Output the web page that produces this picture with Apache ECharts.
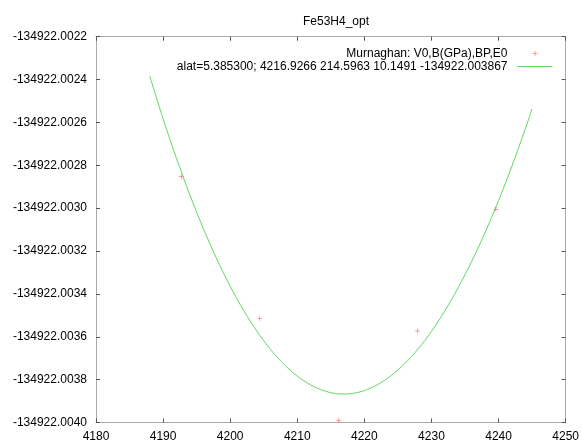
<!DOCTYPE html>
<html>
<head>
<meta charset="utf-8">
<script src="https://cdn.jsdelivr.net/npm/echarts@6/dist/echarts.min.js"></script>
<style>
  html, body { margin: 0; padding: 0; background: #ffffff; }
  #chart { width: 582px; height: 443px; }
</style>
</head>
<body>
<div id="chart"></div>
<script>
// ---- Data ----
var chartTitle = 'Fe53H4_opt';
var pointsName = 'Murnaghan: V0,B(GPa),BP,E0';
var fitName = 'alat=5.385300; 4216.9266 214.5963 10.1491 -134922.003867';

// Measured points (volume, energy)
var pointVolumes = [4192.7, 4204.4, 4216.2, 4227.9, 4239.6];
var pointEnergies = [-134922.002853, -134922.003514, -134922.003990, -134922.003573, -134922.003005];

// Fitted curve
var curveVolumes = [4188, 4190, 4192, 4194, 4196, 4198, 4200, 4202, 4204, 4206, 4208, 4210, 4212, 4213, 4214,
                    4215, 4216, 4217, 4218, 4219, 4220, 4221, 4222, 4224, 4226, 4228, 4230, 4232, 4234, 4236,
                    4238, 4240, 4242, 4244, 4245];
var curveEnergies = [-134922.002382, -134922.002583, -134922.002768, -134922.002939, -134922.003095,
                     -134922.003237, -134922.003364, -134922.003477, -134922.003575, -134922.003659,
                     -134922.003728, -134922.003784, -134922.003825, -134922.003840, -134922.003852,
                     -134922.003861, -134922.003866, -134922.003867, -134922.003865, -134922.003860,
                     -134922.003851, -134922.003838, -134922.003823, -134922.003781, -134922.003726,
                     -134922.003657, -134922.003575, -134922.003479, -134922.003370, -134922.003248,
                     -134922.003113, -134922.002965, -134922.002803, -134922.002629, -134922.002537];

// Axis ticks
var xMin = 4180, xMax = 4250, xStep = 10;
var yMin = -134922.0040, yMax = -134922.0022, yStep = 0.0002;

// ---- Build options ----
var pointData = pointVolumes.map(function (v, i) { return [v, pointEnergies[i]]; });
var curveData = curveVolumes.map(function (v, i) { return [v, curveEnergies[i]]; });

var font = 'Liberation Sans, Arial, sans-serif';
var frameColor = '#a9a9a9';
var tickColor = '#555555';
var lineColor = '#62d862';
var plusPath = 'path://M4.5,0L5.5,0L5.5,4.5L10,4.5L10,5.5L5.5,5.5L5.5,10L4.5,10L4.5,5.5L0,5.5L0,4.5L4.5,4.5Z';

function makeX(pos, show) {
  return {
    type: 'value', position: pos, min: xMin, max: xMax, interval: xStep,
    axisLine: { show: true, onZero: false, lineStyle: { color: frameColor, width: 1 } },
    axisTick: { show: true, inside: true, length: 4, lineStyle: { color: tickColor } },
    axisLabel: { show: show, margin: 8, color: '#000', fontFamily: font, fontSize: 12,
                 formatter: function (v) { return String(v); } },
    splitLine: { show: false }
  };
}
function makeY(pos, show) {
  return {
    type: 'value', position: pos, min: yMin, max: yMax, interval: yStep,
    axisLine: { show: true, onZero: false, lineStyle: { color: frameColor, width: 1 } },
    axisTick: { show: true, inside: true, length: 4, lineStyle: { color: tickColor } },
    axisLabel: { show: show, margin: 9, color: '#000', fontFamily: font, fontSize: 12,
                 formatter: function (v) { return v.toFixed(4); } },
    splitLine: { show: false },
    scale: true
  };
}

var chart = echarts.init(document.getElementById('chart'), null, { renderer: 'canvas' });
chart.setOption({
  backgroundColor: '#ffffff',
  animation: false,
  title: {
    text: chartTitle, left: 298, top: 11,
    textStyle: { fontFamily: font, fontSize: 12, fontWeight: 'normal', color: '#000' }
  },
  grid: { left: 96, right: 15, top: 36.7, bottom: 20.5 },
  legend: {
    orient: 'vertical', right: 24, top: 42, align: 'right',
    itemWidth: 35, itemHeight: 5, itemGap: 0,
    textStyle: { fontFamily: font, fontSize: 12, color: '#000', lineHeight: 13, padding: [0, 5, 0, 0] },
    data: [
      { name: pointsName },
      { name: fitName, itemStyle: { color: 'rgba(0,0,0,0)', borderWidth: 0, opacity: 0 },
        lineStyle: { width: 1, color: lineColor } }
    ]
  },
  xAxis: [makeX('bottom', true), makeX('top', false)],
  yAxis: [makeY('left', true), makeY('right', false)],
  series: [
    {
      name: pointsName, type: 'scatter', xAxisIndex: 0, yAxisIndex: 0,
      data: pointData, symbol: plusPath, symbolSize: 5, symbolKeepAspect: true,
      itemStyle: { color: '#ff2020' }, z: 3
    },
    {
      name: fitName, type: 'line', xAxisIndex: 0, yAxisIndex: 0,
      data: curveData, smooth: 0.3, symbol: 'none', showSymbol: false,
      lineStyle: { color: lineColor, width: 1 }, itemStyle: { color: lineColor }, z: 2
    }
  ]
});
</script>
</body>
</html>
